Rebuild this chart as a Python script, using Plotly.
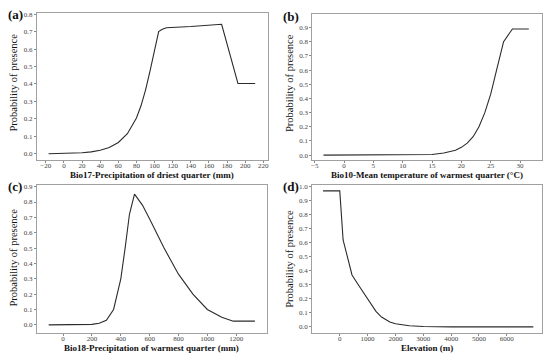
import plotly.graph_objects as go

# Panel (a) Bio17
a_x = [-17, 0, 20, 30, 40, 50, 60, 70, 80, 85, 90, 95, 100, 104.5, 108, 113, 140, 174, 192, 211]
a_y = [0.0, 0.002, 0.006, 0.011, 0.02, 0.036, 0.065, 0.115, 0.205, 0.275, 0.365, 0.475, 0.60, 0.70, 0.712, 0.722, 0.729, 0.742, 0.403, 0.403]
# Panel (b) Bio10
b_x = [-3.5, 5, 10, 12, 15, 17, 19, 20, 21, 22, 23, 24, 25, 26, 27.2, 28.7, 31.5]
b_y = [0.0, 0.0, 0.0005, 0.001, 0.005, 0.015, 0.035, 0.055, 0.085, 0.13, 0.2, 0.3, 0.43, 0.6, 0.80, 0.89, 0.89]
# Panel (c) Bio18
c_x = [-100, 100, 200, 250, 300, 350, 400, 430, 460, 495, 550, 600, 700, 800, 900, 1000, 1100, 1180, 1330]
c_y = [0.0, 0.0, 0.003, 0.01, 0.03, 0.1, 0.3, 0.5, 0.72, 0.851, 0.78, 0.69, 0.50, 0.33, 0.2, 0.1, 0.05, 0.024, 0.024]
# Panel (d) Elevation
d_x = [-600, 0, 120, 440, 700, 1000, 1300, 1500, 1800, 2000, 2500, 3000, 4000, 6950]
d_y = [0.97, 0.97, 0.62, 0.37, 0.29, 0.2, 0.11, 0.07, 0.035, 0.022, 0.008, 0.002, 0.0, 0.0]

x_titles = ["Bio17-Precipitation of driest quarter (mm)",
            "Bio10-Mean temperature of warmest quarter (°C)",
            "Bio18-Precipitation of warmest quarter (mm)",
            "Elevation (m)"]
y_title = "Probability of presence"
panel_labels = ["(a)", "(b)", "(c)", "(d)"]

W, H = 550, 358
frames = [(36, 268, 11, 159.3), (312.5, 543.3, 12.3, 159.3),
          (36, 266.7, 183.7, 333), (312.3, 543.3, 183.7, 333.3)]
ytitle_c = [81, 81, 257, 258]
xranges = [[-29.9, 225.2], [-5.4, 33.8], [-182, 1412], [-991, 7274]]
yranges = [[-0.038, 0.807], [-0.037, 0.994], [-0.054, 0.913], [-0.047, 1.014]]
xticks = [list(range(-20, 221, 20)), list(range(-5, 31, 5)), list(range(0, 1201, 200)), list(range(0, 6001, 1000))]
yticks = [[i / 10 for i in range(0, 9)], [i / 10 for i in range(0, 10)], [i / 10 for i in range(0, 10)], [i / 10 for i in range(0, 11)]]
xs = [a_x, b_x, c_x, d_x]
ys = [a_y, b_y, c_y, d_y]

fig = go.Figure()
font_family = "Liberation Serif"
annotations = []
for i in range(4):
    l, r, t, b = frames[i]
    sfx = "" if i == 0 else str(i + 1)
    fig.add_trace(go.Scatter(x=xs[i], y=ys[i], mode="lines",
                             line=dict(color="#2b2b2b", width=1.1),
                             xaxis="x" + sfx, yaxis="y" + sfx, showlegend=False))
    axstyle = dict(showgrid=False, zeroline=False, showline=True, mirror=True,
                   linecolor="#a0a0a0", linewidth=1, ticks="outside", ticklen=2,
                   tickcolor="#888", tickfont=dict(family=font_family, size=7, color="#444"))
    fig.layout["xaxis" + sfx] = dict(domain=[l / W, r / W], range=xranges[i],
                                     tickvals=xticks[i], anchor="y" + sfx,
                                     ticklabelstandoff=-4, **axstyle)
    fig.layout["yaxis" + sfx] = dict(domain=[1 - b / H, 1 - t / H], range=yranges[i],
                                     tickvals=yticks[i], tickformat=".1f",
                                     anchor="x" + sfx, **axstyle)
    # x title
    annotations.append(dict(text="<b>" + x_titles[i] + "</b>", xref="paper", yref="paper",
                            x=(l + r) / 2 / W, y=1 - (b + 14.5) / H, showarrow=False,
                            font=dict(family=font_family, size=9, color="#111"),
                            xanchor="center", yanchor="middle"))
    # y title
    annotations.append(dict(text=y_title, xref="paper", yref="paper",
                            x=(l - 23) / W, y=1 - ytitle_c[i] / H, showarrow=False, textangle=-90,
                            font=dict(family=font_family, size=10.5, color="#111"),
                            xanchor="center", yanchor="middle"))
    # panel label
    annotations.append(dict(text="<b>" + panel_labels[i] + "</b>", xref="paper", yref="paper",
                            x=(l - 31) / W, y=1 - (t + 2) / H, showarrow=False,
                            font=dict(family=font_family, size=13, color="#111"),
                            xanchor="left", yanchor="middle"))

fig.update_layout(width=W, height=H, margin=dict(l=0, r=0, t=0, b=0),
                  paper_bgcolor="white", plot_bgcolor="white", annotations=annotations)
fig.write_html("out.html", config={"displayModeBar": False},
               post_script="document.body.style.margin='0px';document.body.style.padding='0px';")
